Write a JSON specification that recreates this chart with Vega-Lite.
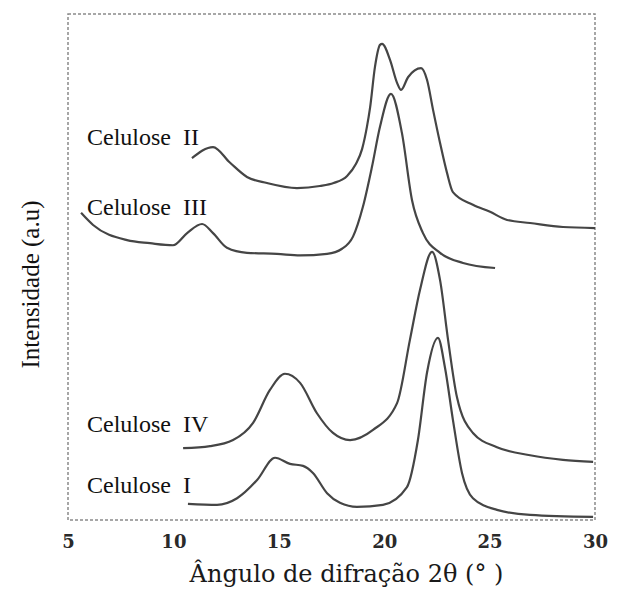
{
  "$schema": "https://vega.github.io/schema/vega-lite/v6.json",
  "width": 527,
  "height": 506,
  "autosize": {"type": "none"},
  "padding": {"left": 68, "top": 14, "right": 23, "bottom": 71},
  "background": "white",
  "config": {"view": {"stroke": "#8a8a8a", "strokeDash": [3, 2], "strokeWidth": 1.5}},
  "datasets": {
    "curves": [
      {"series": "II", "angle": 10.88, "intensity": 71.5},
      {"series": "II", "angle": 11.88, "intensity": 73.7},
      {"series": "II", "angle": 12.69, "intensity": 70.6},
      {"series": "II", "angle": 13.49, "intensity": 67.8},
      {"series": "II", "angle": 14.44, "intensity": 66.6},
      {"series": "II", "angle": 15.86, "intensity": 65.6},
      {"series": "II", "angle": 16.95, "intensity": 66.0},
      {"series": "II", "angle": 17.6, "intensity": 66.6},
      {"series": "II", "angle": 18.24, "intensity": 68.0},
      {"series": "II", "angle": 18.65, "intensity": 70.3},
      {"series": "II", "angle": 18.95, "intensity": 73.3},
      {"series": "II", "angle": 19.18, "intensity": 77.7},
      {"series": "II", "angle": 19.33, "intensity": 81.5},
      {"series": "II", "angle": 19.56, "intensity": 89.5},
      {"series": "II", "angle": 19.80, "intensity": 93.9},
      {"series": "II", "angle": 19.90, "intensity": 94.1},
      {"series": "II", "angle": 20.28, "intensity": 90.9},
      {"series": "II", "angle": 20.61, "intensity": 86.4},
      {"series": "II", "angle": 20.80, "intensity": 85.0},
      {"series": "II", "angle": 21.13, "intensity": 87.5},
      {"series": "II", "angle": 21.75, "intensity": 89.3},
      {"series": "II", "angle": 22.03, "intensity": 87.0},
      {"series": "II", "angle": 22.32, "intensity": 81.0},
      {"series": "II", "angle": 22.65, "intensity": 74.5},
      {"series": "II", "angle": 22.98, "intensity": 68.6},
      {"series": "II", "angle": 23.26, "intensity": 64.8},
      {"series": "II", "angle": 24.21, "intensity": 62.3},
      {"series": "II", "angle": 25.02, "intensity": 60.9},
      {"series": "II", "angle": 25.83, "intensity": 59.3},
      {"series": "II", "angle": 26.92, "intensity": 58.7},
      {"series": "II", "angle": 28.48, "intensity": 57.9},
      {"series": "II", "angle": 30.0, "intensity": 57.7},
      {"series": "III", "angle": 5.62, "intensity": 60.7},
      {"series": "III", "angle": 6.19, "intensity": 58.3},
      {"series": "III", "angle": 7.80, "intensity": 55.3},
      {"series": "III", "angle": 8.89, "intensity": 54.7},
      {"series": "III", "angle": 9.98, "intensity": 54.3},
      {"series": "III", "angle": 10.65, "intensity": 56.7},
      {"series": "III", "angle": 11.36, "intensity": 58.5},
      {"series": "III", "angle": 11.88, "intensity": 56.7},
      {"series": "III", "angle": 12.54, "intensity": 53.8},
      {"series": "III", "angle": 13.49, "intensity": 52.8},
      {"series": "III", "angle": 14.91, "intensity": 52.6},
      {"series": "III", "angle": 16.01, "intensity": 52.3},
      {"series": "III", "angle": 17.29, "intensity": 52.6},
      {"series": "III", "angle": 18.0, "intensity": 53.6},
      {"series": "III", "angle": 18.52, "intensity": 56.0},
      {"series": "III", "angle": 18.99, "intensity": 61.9},
      {"series": "III", "angle": 19.42, "intensity": 69.8},
      {"series": "III", "angle": 19.80, "intensity": 77.7},
      {"series": "III", "angle": 20.32, "intensity": 84.2},
      {"series": "III", "angle": 20.84, "intensity": 76.5},
      {"series": "III", "angle": 21.32, "intensity": 63.2},
      {"series": "III", "angle": 21.84, "intensity": 56.7},
      {"series": "III", "angle": 22.65, "intensity": 52.8},
      {"series": "III", "angle": 23.74, "intensity": 50.8},
      {"series": "III", "angle": 25.26, "intensity": 49.8},
      {"series": "IV", "angle": 10.46, "intensity": 14.2},
      {"series": "IV", "angle": 11.74, "intensity": 14.6},
      {"series": "IV", "angle": 12.83, "intensity": 15.8},
      {"series": "IV", "angle": 13.78, "intensity": 19.2},
      {"series": "IV", "angle": 14.58, "intensity": 25.7},
      {"series": "IV", "angle": 15.29, "intensity": 28.9},
      {"series": "IV", "angle": 16.01, "intensity": 27.1},
      {"series": "IV", "angle": 16.81, "intensity": 21.1},
      {"series": "IV", "angle": 17.57, "intensity": 17.2},
      {"series": "IV", "angle": 18.38, "intensity": 15.8},
      {"series": "IV", "angle": 19.47, "intensity": 17.8},
      {"series": "IV", "angle": 20.61, "intensity": 23.1},
      {"series": "IV", "angle": 21.22, "intensity": 35.6},
      {"series": "IV", "angle": 21.70, "intensity": 45.5},
      {"series": "IV", "angle": 22.27, "intensity": 53.0},
      {"series": "IV", "angle": 22.65, "intensity": 47.4},
      {"series": "IV", "angle": 23.03, "intensity": 35.6},
      {"series": "IV", "angle": 23.45, "intensity": 24.3},
      {"series": "IV", "angle": 24.21, "intensity": 17.2},
      {"series": "IV", "angle": 25.35, "intensity": 14.4},
      {"series": "IV", "angle": 26.92, "intensity": 12.8},
      {"series": "IV", "angle": 28.48, "intensity": 11.9},
      {"series": "IV", "angle": 29.91, "intensity": 11.5},
      {"series": "I", "angle": 10.69, "intensity": 3.2},
      {"series": "I", "angle": 12.07, "intensity": 3.0},
      {"series": "I", "angle": 13.02, "intensity": 4.3},
      {"series": "I", "angle": 13.97, "intensity": 7.9},
      {"series": "I", "angle": 14.82, "intensity": 12.3},
      {"series": "I", "angle": 15.53, "intensity": 11.1},
      {"series": "I", "angle": 16.15, "intensity": 10.7},
      {"series": "I", "angle": 16.62, "intensity": 9.3},
      {"series": "I", "angle": 17.29, "intensity": 5.3},
      {"series": "I", "angle": 17.90, "intensity": 3.4},
      {"series": "I", "angle": 18.71, "intensity": 2.6},
      {"series": "I", "angle": 19.94, "intensity": 3.0},
      {"series": "I", "angle": 21.08, "intensity": 6.5},
      {"series": "I", "angle": 21.60, "intensity": 15.8},
      {"series": "I", "angle": 22.03, "intensity": 29.1},
      {"series": "I", "angle": 22.55, "intensity": 36.0},
      {"series": "I", "angle": 22.88, "intensity": 30.2},
      {"series": "I", "angle": 23.26, "intensity": 19.8},
      {"series": "I", "angle": 23.69, "intensity": 9.3},
      {"series": "I", "angle": 24.21, "intensity": 4.3},
      {"series": "I", "angle": 25.35, "intensity": 2.0},
      {"series": "I", "angle": 26.92, "intensity": 1.0},
      {"series": "I", "angle": 29.91, "intensity": 0.6}
    ],
    "labels": [
      {"label": "Celulose\u00a0\u00a0II", "angle": 5.9, "intensity": 74.1},
      {"label": "Celulose\u00a0\u00a0III", "angle": 5.9, "intensity": 60.3},
      {"label": "Celulose\u00a0\u00a0IV", "angle": 5.9, "intensity": 17.4},
      {"label": "Celulose\u00a0\u00a0I", "angle": 5.9, "intensity": 5.3}
    ]
  },
  "layer": [
    {
      "data": {"name": "curves"},
      "mark": {"type": "line", "color": "#454545", "strokeWidth": 2.2, "interpolate": "monotone"},
      "encoding": {
        "x": {
          "field": "angle", "type": "quantitative",
          "scale": {"domain": [5, 30], "nice": false, "zero": false},
          "axis": {
            "values": [5, 10, 15, 20, 25, 30],
            "labelFont": "DejaVu Serif", "labelFontWeight": "bold", "labelFontSize": 18,
            "labelColor": "#2a2a2a", "labelFlush": false, "labelPadding": 13,
            "ticks": false, "domain": false, "grid": false,
            "title": "Ângulo de difração 2θ (° )",
            "titleFont": "DejaVu Serif", "titleFontSize": 24, "titleFontWeight": "normal",
            "titleColor": "#1a1a1a", "titlePadding": 11, "titleX": 278
          }
        },
        "y": {
          "field": "intensity", "type": "quantitative",
          "scale": {"domain": [0, 100], "nice": false},
          "axis": {
            "labels": false, "ticks": false, "domain": false, "grid": false,
            "title": "Intensidade (a.u)",
            "titleFont": "Liberation Serif", "titleFontSize": 25, "titleFontWeight": "normal",
            "titleColor": "#111", "titlePadding": 25, "titleY": 270
          }
        },
        "detail": {"field": "series"}
      }
    },
    {
      "data": {"name": "labels"},
      "mark": {"type": "text", "align": "left", "baseline": "alphabetic", "font": "Liberation Serif", "fontSize": 24, "color": "#111"},
      "encoding": {
        "x": {"field": "angle", "type": "quantitative"},
        "y": {"field": "intensity", "type": "quantitative"},
        "text": {"field": "label"}
      }
    }
  ]
}
